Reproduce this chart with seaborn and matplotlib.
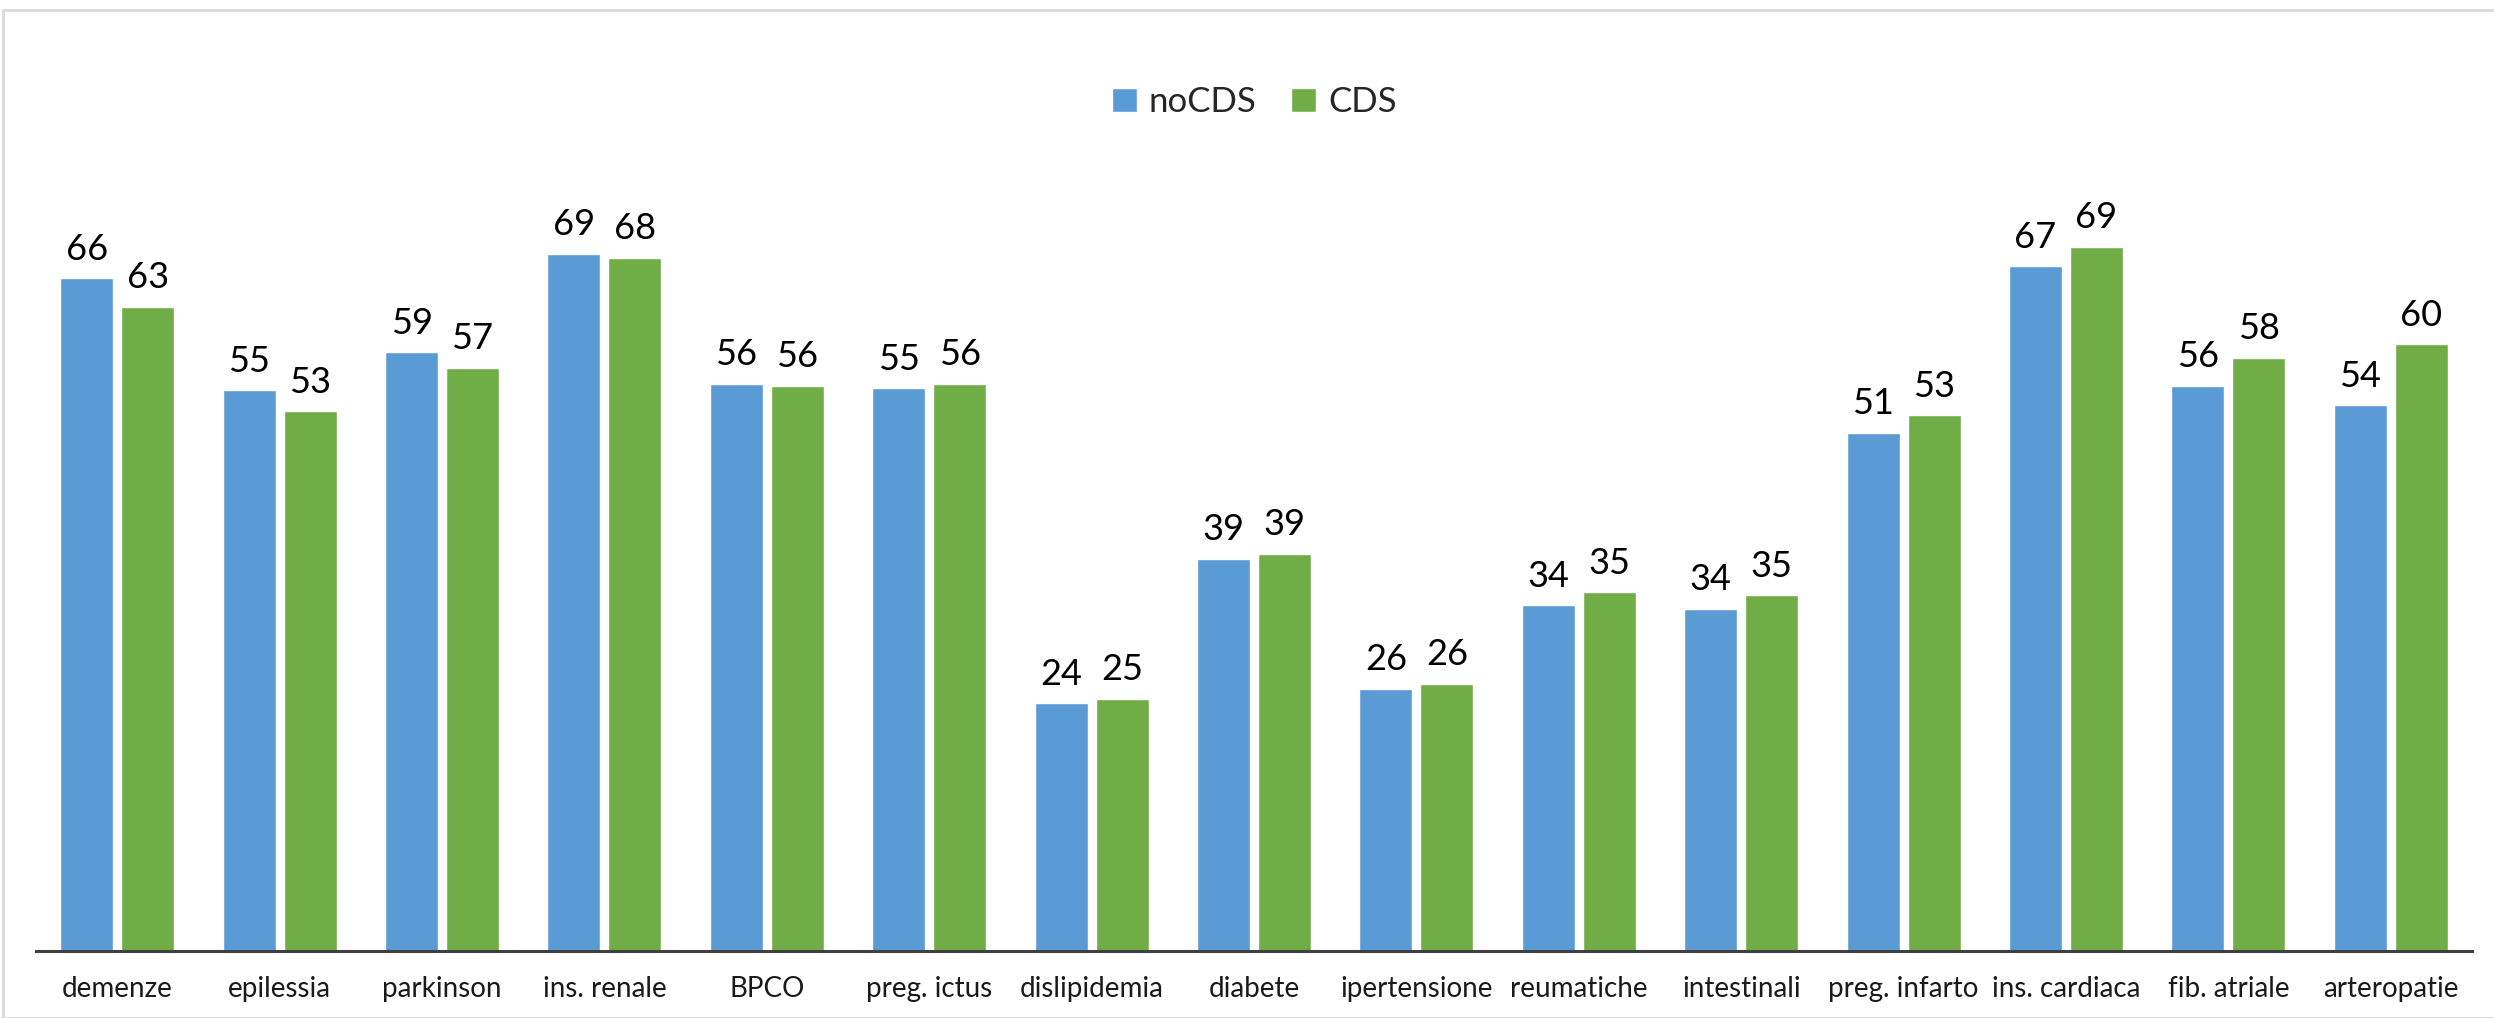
import pandas as pd
import matplotlib.pyplot as plt
import seaborn as sns
from matplotlib.patches import Rectangle

# categories and values
categorie = ["demenze", "epilessia", "parkinson", "ins. renale", "BPCO",
             "preg. ictus", "dislipidemia", "diabete", "ipertensione",
             "reumatiche", "intestinali", "preg. infarto", "ins. cardiaca",
             "fib. atriale", "arteropatie"]
no_cds = [66.2, 55.2, 58.9, 68.6, 55.8, 55.4, 24.4, 38.6, 25.8, 34.0,
          33.7, 51.0, 67.4, 55.6, 53.7]
cds = [63.4, 53.1, 57.4, 68.2, 55.6, 55.8, 24.8, 39.1, 26.3, 35.3,
       35.0, 52.7, 69.3, 58.4, 59.7]
serie = ["noCDS", "CDS"]
colori = ["#5B9BD5", "#70AD47"]

df = pd.DataFrame({
    "malattia": categorie * 2,
    "valore": no_cds + cds,
    "gruppo": ["noCDS"] * len(categorie) + ["CDS"] * len(categorie),
})

sns.set_style("white")
plt.rcParams["font.family"] = ["Lato", "DejaVu Sans"]

fig = plt.figure(figsize=(24.94, 10.18), dpi=100)
ax = fig.add_axes([36 / 2494, 1 - 951 / 1018, (2472 - 36) / 2494, 0.8644 - (1 - 951 / 1018)])

sns.barplot(data=df, x="malattia", y="valore", hue="gruppo", hue_order=serie,
            palette=colori, width=0.75, gap=0.13, errorbar=None,
            saturation=1, ax=ax, legend=True)

for cont in ax.containers:
    ax.bar_label(cont, fmt="%.0f", padding=9, fontsize=26, color="#000000")

ax.set_ylim(0, 80)
ax.set_xlim(-0.5, len(categorie) - 0.5)
ax.set_xlabel("")
ax.set_ylabel("")
ax.set_yticks([])

for s in ["top", "right", "left"]:
    ax.spines[s].set_visible(False)
ax.spines["bottom"].set_color("#404040")
ax.spines["bottom"].set_linewidth(2.2)

ax.set_xticks(range(len(categorie)))
ax.set_xticklabels(categorie, fontsize=20, color="#1a1a1a")
ax.tick_params(axis="x", which="major", length=0, pad=18)
ax.set_xticks([i - 0.5 for i in range(len(categorie) + 1)], minor=True)
ax.tick_params(axis="x", which="minor", length=8, width=2, color="#404040", direction="out")

handles, labels = ax.get_legend_handles_labels()
ax.legend_.remove()
fig.legend(handles, labels, loc="center", bbox_to_anchor=(0.503, 1 - 102 / 1018),
           ncol=2, frameon=False, fontsize=25, handlelength=0.7, handleheight=0.7,
           handletextpad=0.35, columnspacing=1.0)

# light border round the chart area (right edge is cut off in the reference)
fig.patches.append(Rectangle((3 / 2494, 0.0), 1.0, 1 - 10 / 1018,
                             transform=fig.transFigure, fill=False,
                             edgecolor="#d9d9d9", linewidth=2))

fig.savefig("out.png", dpi=100)
